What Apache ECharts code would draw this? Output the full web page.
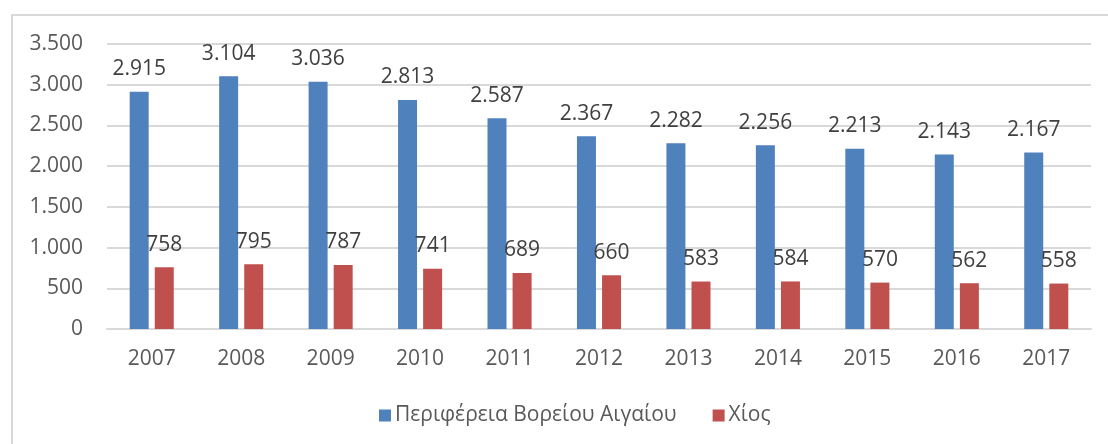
<!DOCTYPE html>
<html><head><meta charset="utf-8">
<script src="https://cdn.jsdelivr.net/npm/echarts@6/dist/echarts.min.js"></script>
<style>html,body{margin:0;padding:0;background:#fff}#c{width:1108px;height:444px}</style>
</head><body><div id="c"></div>
<script>
const categories = ['2007','2008','2009','2010','2011','2012','2013','2014','2015','2016','2017'];
const seriesNames = ['Περιφέρεια Βορείου Αιγαίου', 'Χίος'];
const northAegean = [2915,3104,3036,2813,2587,2367,2282,2256,2213,2143,2167];
const chios = [758,795,787,741,689,660,583,584,570,562,558];
const yTicks = {min:0, max:3500, interval:500};

const fmt = v => String(v).replace(/\B(?=(\d{3})+(?!\d))/g, '.');
const FONT = "'Open Sans', 'Noto Sans', sans-serif";

const chart = echarts.init(document.getElementById('c'), null, {renderer:'canvas'});
chart.setOption({
  animation:false,
  backgroundColor:'#fff',
  graphic:[{type:'rect', shape:{x:12,y:15,width:1200,height:600}, style:{fill:'none', stroke:'#d9d9d9', lineWidth:2}, silent:true}],
  grid:{left:107, right:17, top:44, bottom:115},
  legend:{
    data:seriesNames, left:374, top:400, itemWidth:12, itemHeight:12, itemGap:36,
    icon:'rect', textStyle:{fontFamily:FONT, fontSize:21, color:'#595959', padding:[0,0,0,-1]}
  },
  xAxis:{
    type:'category', data:categories,
    axisLine:{show:true, lineStyle:{color:'#d9d9d9', width:2}}, axisTick:{show:false},
    axisLabel:{fontFamily:FONT, fontSize:21, color:'#595959', margin:20}
  },
  yAxis:{
    type:'value', min:yTicks.min, max:yTicks.max, interval:yTicks.interval,
    axisLine:{show:false}, axisTick:{show:false},
    splitLine:{lineStyle:{color:'#d9d9d9', width:2}},
    axisLabel:{fontFamily:FONT, fontSize:21, color:'#595959', margin:24, formatter:fmt}
  },
  series:[
    {name:seriesNames[0], type:'bar', data:northAegean, barWidth:19, barGap:'32%',
     itemStyle:{color:'#4f81bd'},
     label:{show:true, position:'top', distance:12, fontFamily:FONT, fontSize:21, color:'#404040', formatter:p=>fmt(p.value)}},
    {name:seriesNames[1], type:'bar', data:chios, barWidth:19, barGap:'32%',
     itemStyle:{color:'#c0504d'},
     label:{show:true, position:'top', distance:12, fontFamily:FONT, fontSize:21, color:'#404040', formatter:p=>fmt(p.value)}}
  ]
});
</script></body></html>
